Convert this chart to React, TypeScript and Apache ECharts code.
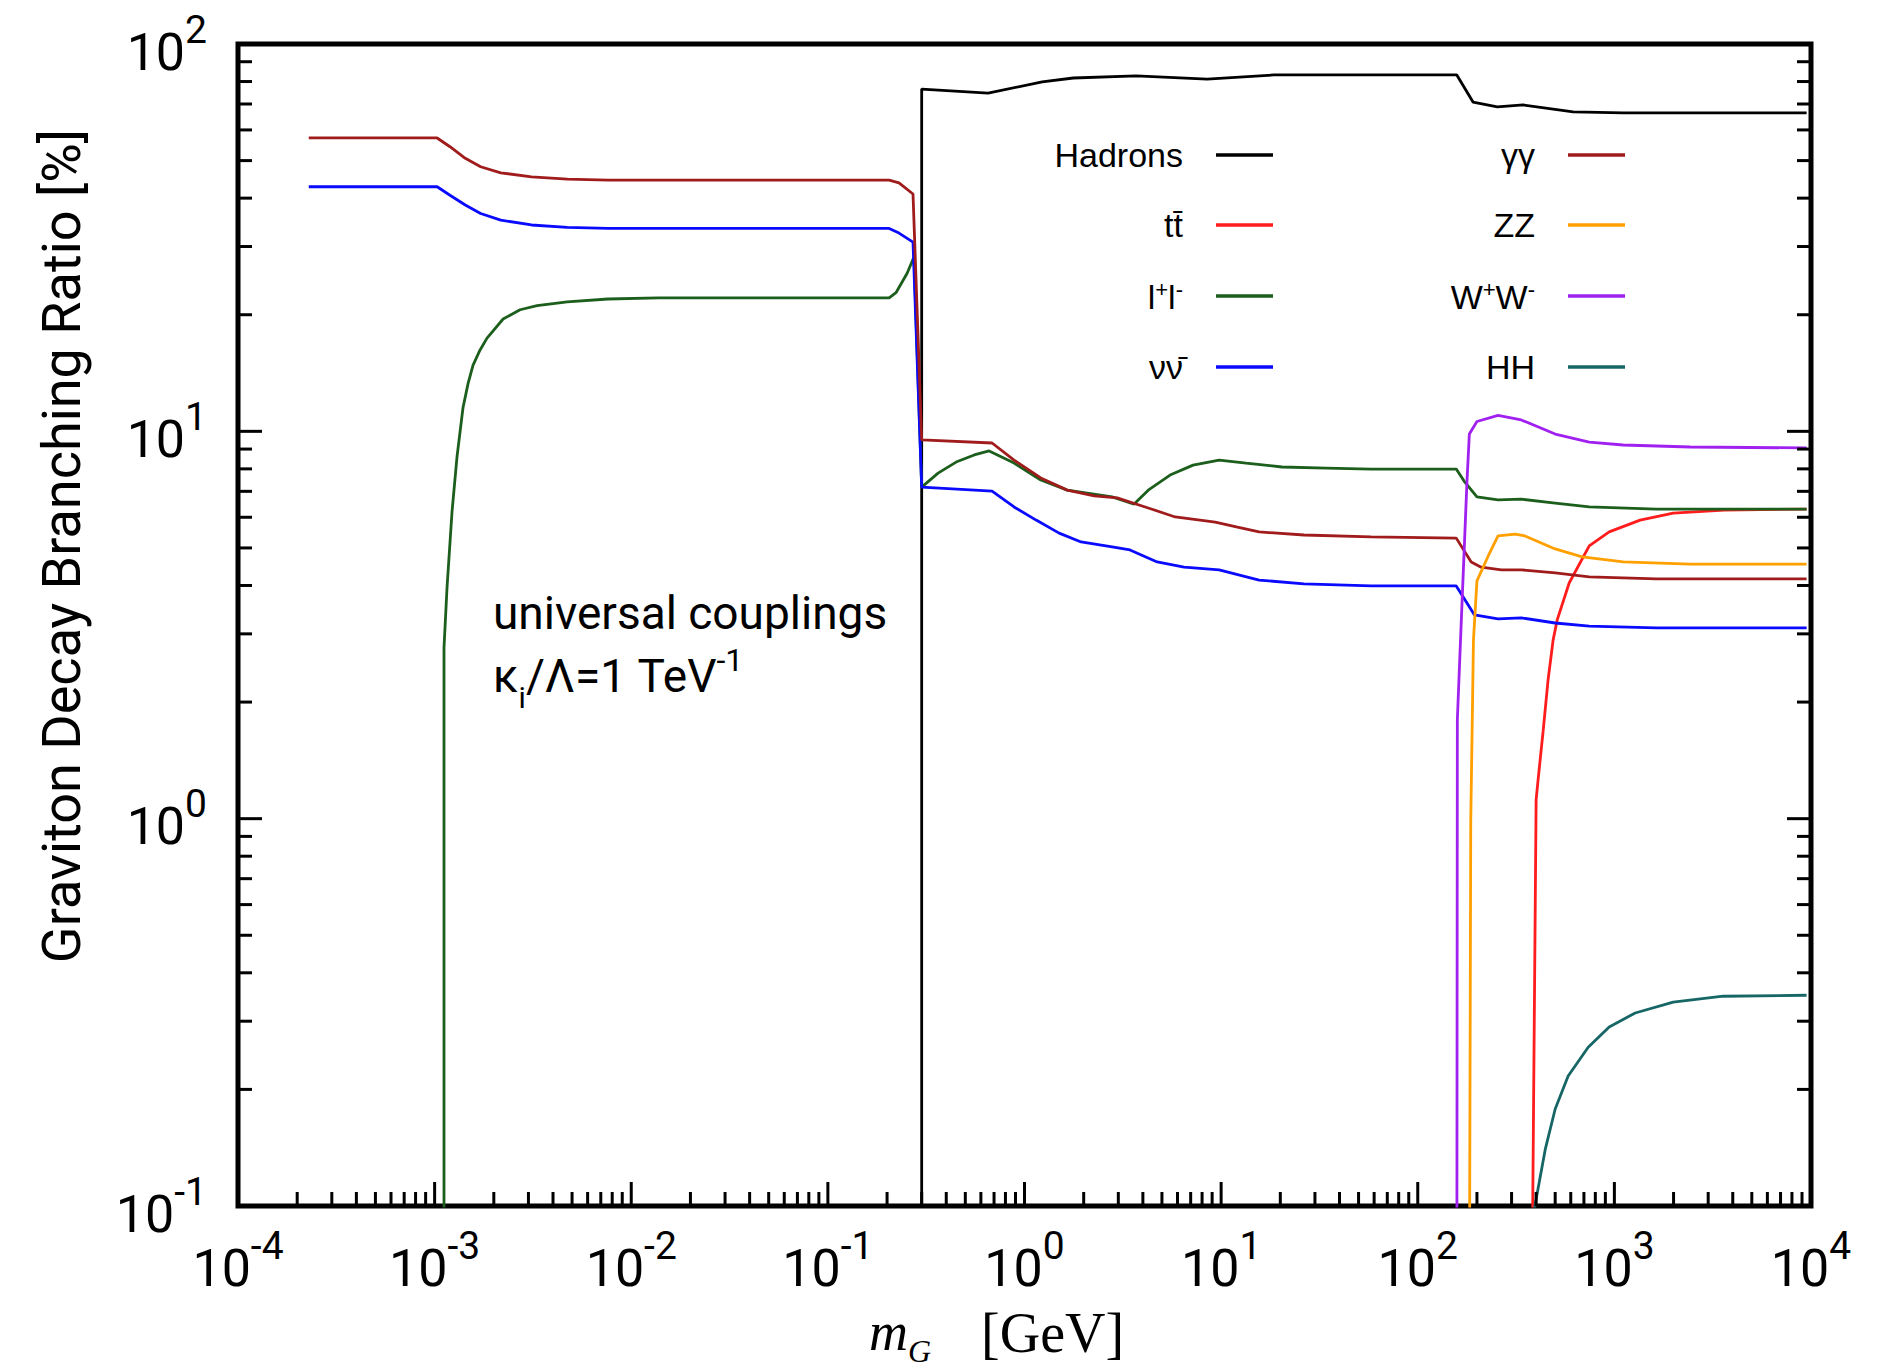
import React, { useEffect, useRef } from "react";
import * as echarts from "echarts";

// ---------- data (x: graviton mass in GeV, y: branching ratio in %) ----------
const X_TICKS = [1e-4, 1e-3, 1e-2, 1e-1, 1, 10, 100, 1000, 10000];
const Y_TICKS = [0.1, 1, 10, 100];
const MINOR_STEPS = [2, 3, 4, 5, 6, 7, 8, 9];

const hadrons: [number, number][] = [
  [0.3, 0.01], [0.3, 76.5], [0.653, 74.7], [1.23, 79.8], [1.77, 81.7], [3.7, 82.7],
  [8.49, 81.2], [18.6, 83.2], [40.8, 83.2], [158, 83.2], [191, 70.8], [254, 68.8],
  [344, 69.6], [617, 66.8], [1109, 66.4], [9500, 66.4],
];
const ttbar: [number, number][] = [
  [380, 0.05], [400, 1.12], [410, 1.27], [434, 1.68], [460, 2.28], [488, 2.89],
  [512, 3.26], [589, 4.06], [745, 5.06], [941, 5.5], [1352, 5.9], [1991, 6.15],
  [3619, 6.26], [9500, 6.3],
];
const leptons: [number, number][] = [
  [1.116e-3, 0.01], [1.116e-3, 2.76], [1.156e-3, 3.94], [1.226e-3, 6.2], [1.3e-3, 8.6],
  [1.394e-3, 11.5], [1.48e-3, 13.3], [1.567e-3, 14.8], [1.7e-3, 16.2], [1.847e-3, 17.4],
  [2.23e-3, 19.5], [2.72e-3, 20.6], [3.32e-3, 21.1], [4.72e-3, 21.6], [7.62e-3, 21.96],
  [1.38e-2, 22.1], [0.205, 22.1], [0.222, 22.8], [0.253, 25.6], [0.274, 28.2], [0.3, 7.18],
  [0.3635, 7.8], [0.449, 8.33], [0.555, 8.69], [0.661, 8.9], [0.885, 8.28], [1.21, 7.49],
  [1.65, 7.05], [2.79, 6.77], [3.61, 6.49], [4.26, 7.05], [5.5, 7.71], [7.2, 8.18],
  [9.77, 8.43], [13.4, 8.28], [20.4, 8.09], [34.2, 8.04], [57.9, 7.99], [157, 7.99],
  [172, 7.44], [200, 6.77], [256, 6.65], [336, 6.68], [500, 6.53], [745, 6.38],
  [1633, 6.3], [9500, 6.3],
];
const neutrinos: [number, number][] = [
  [2.29e-4, 42.8], [1.03e-3, 42.8], [1.197e-3, 40.7], [1.432e-3, 38.4], [1.714e-3, 36.5],
  [2.17e-3, 35.1], [3.11e-3, 34.1], [4.73e-3, 33.6], [7.62e-3, 33.4], [0.205, 33.4],
  [0.23, 32.5], [0.271, 30.8], [0.3, 7.18], [0.684, 7.01], [0.885, 6.38], [1.146, 5.9],
  [1.5, 5.46], [1.94, 5.18], [2.79, 5.03], [3.44, 4.94], [4.73, 4.6], [6.48, 4.46],
  [9.77, 4.39], [15.6, 4.13], [26.4, 4.04], [57.9, 3.99], [157, 3.99], [194, 3.36],
  [256, 3.28], [336, 3.3], [500, 3.2], [745, 3.14], [1633, 3.11], [9500, 3.11],
];
const photons: [number, number][] = [
  [2.29e-4, 57.2], [1.03e-3, 57.2], [1.197e-3, 54.3], [1.432e-3, 50.7], [1.714e-3, 48.2],
  [2.17e-3, 46.5], [3.11e-3, 45.4], [4.73e-3, 44.8], [7.62e-3, 44.5], [0.205, 44.5],
  [0.23, 43.8], [0.271, 41.0], [0.3, 9.5], [0.684, 9.33], [0.885, 8.43], [1.21, 7.58],
  [1.65, 7.05], [2.26, 6.81], [2.96, 6.73], [4.26, 6.34], [5.84, 6.01], [9.33, 5.83],
  [12.1, 5.66], [15.6, 5.5], [26.4, 5.4], [57.9, 5.34], [157, 5.3], [187, 4.6],
  [210, 4.46], [266, 4.39], [336, 4.39], [500, 4.31], [745, 4.21], [1633, 4.16], [9500, 4.16],
];
const zz: [number, number][] = [
  [183, 0.05], [186, 0.98], [192, 2.89], [200, 4.11], [228, 4.76], [256, 5.37],
  [313, 5.43], [351, 5.37], [500, 4.97], [686, 4.74], [1109, 4.6], [2432, 4.54], [9500, 4.54],
];
const ww: [number, number][] = [
  [158, 0.05], [159, 1.8], [165, 2.89], [178, 7.44], [183, 9.84], [200, 10.6],
  [256, 11.0], [336, 10.7], [500, 9.84], [745, 9.38], [1109, 9.22], [2432, 9.11], [9500, 9.06],
];
const hh: [number, number][] = [
  [387, 0.095], [445, 0.14], [500, 0.178], [582, 0.2165], [736, 0.257], [941, 0.29],
  [1276, 0.315], [1991, 0.336], [3573, 0.348], [9500, 0.35],
];

const SERIES = [
  { name: "Hadrons", label: "Hadrons", color: "#000000", data: hadrons },
  { name: "ttbar", label: "tt\u0304", color: "#ff1c1c", data: ttbar },
  { name: "l+l-", label: "{n|l}{p|+}{n|l}{p|-}", color: "#1c5e1c", data: leptons },
  { name: "nunubar", label: "\u03bd\u03bd\u0304", color: "#0a0aff", data: neutrinos },
  { name: "gammagamma", label: "\u03b3\u03b3", color: "#a01c1c", data: photons },
  { name: "ZZ", label: "ZZ", color: "#ffa000", data: zz },
  { name: "W+W-", label: "{n|W}{p|+}{n|W}{p|-}", color: "#a020f0", data: ww },
  { name: "HH", label: "HH", color: "#176666", data: hh },
];

// tick marks: [x, y, kind] kind 0/1 bottom major/minor, 2/3 left, 4/5 right
function buildTicks() {
  const out: number[][] = [];
  X_TICKS.forEach((x) => out.push([x, Y_TICKS[0], 0]));
  X_TICKS.slice(0, -1).forEach((d) => MINOR_STEPS.forEach((m) => out.push([d * m, Y_TICKS[0], 1])));
  const xmin = X_TICKS[0];
  const xmax = X_TICKS[X_TICKS.length - 1];
  Y_TICKS.forEach((y) => { out.push([xmin, y, 2]); out.push([xmax, y, 4]); });
  Y_TICKS.slice(0, -1).forEach((d) =>
    MINOR_STEPS.forEach((m) => { out.push([xmin, d * m, 3]); out.push([xmax, d * m, 5]); })
  );
  return out;
}

const W = 1898;
const H = 1369;
const G_LEFT = 238;
const G_TOP = 44;
const G_RIGHT = 1811;
const G_BOTTOM = 1206;

const tickRich = {
  b: { fontSize: 52, lineHeight: 68, fontFamily: "Roboto", color: "#000", padding: [16, 0, 0, 0], verticalAlign: "bottom" },
  s: { fontSize: 39, fontFamily: "Roboto", color: "#000", verticalAlign: "top" },
};
const expLabel = (v: number) => `{b|10}{s|${Math.round(Math.log10(v))}}`;

export default function App() {
  const ref = useRef<HTMLDivElement>(null);
  useEffect(() => {
    if (!ref.current) return;
    const chart = echarts.init(ref.current, undefined, { renderer: "svg" });

    const legendItems: any[] = [];
    const rowY = [155, 225, 296, 367];
    SERIES.forEach((s, i) => {
      const col = i < 4 ? 0 : 1;
      const row = i % 4;
      const textRight = col === 0 ? 1183 : 1535;
      const lineX1 = col === 0 ? 1216 : 1568;
      legendItems.push({
        type: "text",
        silent: true,
        style: {
          x: textRight,
          y: rowY[row],
          text: s.label,
          align: "right",
          verticalAlign: "middle",
          fill: "#000",
          font: '34px "Liberation Sans", Arial, sans-serif',
          rich: {
            n: { fontSize: 34, fontFamily: "Liberation Sans", fill: "#000", verticalAlign: "bottom", padding: [2, 0, 0, 0] },
            p: { fontSize: 22, fontFamily: "Liberation Sans", fill: "#000", verticalAlign: "top" },
          },
        },
      });
      legendItems.push({
        type: "line",
        silent: true,
        shape: { x1: lineX1, y1: rowY[row], x2: lineX1 + 57, y2: rowY[row] },
        style: { stroke: s.color, lineWidth: 3.5 },
      });
    });

    const option: any = {
      animation: false,
      backgroundColor: "#ffffff",
      grid: {
        left: G_LEFT,
        top: G_TOP,
        right: W - G_RIGHT,
        bottom: H - G_BOTTOM,
        show: true,
        borderColor: "#000",
        borderWidth: 5,
        containLabel: false,
      },
      xAxis: {
        type: "log",
        logBase: 10,
        min: X_TICKS[0],
        max: X_TICKS[X_TICKS.length - 1],
        interval: 1,
        splitNumber: 8,
        axisLine: { show: false },
        axisTick: { show: false },
        splitLine: { show: false },
        minorTick: { show: false },
        axisLabel: {
          show: true,
          margin: 20,
          showMinLabel: true,
          showMaxLabel: true,
          formatter: expLabel,
          rich: tickRich,
          color: "#000",
        },
      },
      yAxis: {
        type: "log",
        logBase: 10,
        min: Y_TICKS[0],
        max: Y_TICKS[Y_TICKS.length - 1],
        interval: 1,
        splitNumber: 3,
        axisLine: { show: false },
        axisTick: { show: false },
        splitLine: { show: false },
        minorTick: { show: false },
        axisLabel: {
          show: true,
          margin: 31,
          showMinLabel: true,
          showMaxLabel: true,
          formatter: expLabel,
          rich: tickRich,
          color: "#000",
        },
      },
      series: [
        ...SERIES.map((s) => ({
          type: "line",
          name: s.name,
          data: s.data,
          showSymbol: false,
          symbol: "none",
          clip: true,
          z: 3,
          lineStyle: { color: s.color, width: 2.8 },
          itemStyle: { color: s.color },
          emphasis: { disabled: true },
        })),
        {
          type: "custom",
          name: "ticks",
          silent: true,
          clip: false,
          z: 5,
          data: buildTicks(),
          renderItem: (_params: any, api: any) => {
            const kind = api.value(2);
            const p = api.coord([api.value(0), api.value(1)]);
            const len = kind % 2 === 0 ? 24 : 14;
            let shape;
            if (kind < 2) shape = { x1: p[0], y1: p[1], x2: p[0], y2: p[1] - len };
            else if (kind < 4) shape = { x1: p[0], y1: p[1], x2: p[0] + len, y2: p[1] };
            else shape = { x1: p[0], y1: p[1], x2: p[0] - len, y2: p[1] };
            return { type: "line", shape, style: { stroke: "#000", lineWidth: 3 } };
          },
        },
      ],
      graphic: [
        ...legendItems,
        {
          type: "text",
          silent: true,
          style: {
            x: 493,
            y: 602,
            text: "{a|universal couplings}\n{n|\u03ba}{sub|i}{n|/\u039b=1 TeV}{sup|-1}",
            align: "left",
            verticalAlign: "top",
            fill: "#000",
            font: "46px Roboto",
            rich: {
              a: { fontSize: 46, lineHeight: 22, fontFamily: "Roboto", fill: "#000", verticalAlign: "middle" },
              n: { fontSize: 46, fontFamily: "Roboto", fill: "#000", verticalAlign: "top", padding: [29, 0, 0, 0] },
              sub: { fontSize: 30, fontFamily: "Roboto", fill: "#000", verticalAlign: "top", padding: [58, 0, 0, 0] },
              sup: { fontSize: 32, fontFamily: "Roboto", fill: "#000", verticalAlign: "top", padding: [20, 0, 0, 0] },
            },
          },
        },
        {
          type: "text",
          silent: true,
          rotation: Math.PI / 2,
          x: 61,
          y: 546,
          style: {
            x: 0,
            y: 0,
            text: "Graviton Decay Branching Ratio [%]",
            align: "center",
            verticalAlign: "middle",
            fill: "#000",
            font: "54px Roboto",
          },
        },
        {
          type: "text",
          silent: true,
          style: {
            x: 869,
            y: 1305,
            text: "{m|m}{g|G}{r|[GeV]}",
            align: "left",
            verticalAlign: "top",
            fill: "#000",
            font: '54px "Liberation Serif"',
            rich: {
              m: { fontSize: 54, lineHeight: 56, fontFamily: "Liberation Serif", fontStyle: "italic", fill: "#000", verticalAlign: "top" },
              g: { fontSize: 32, lineHeight: 32, fontFamily: "Liberation Serif", fontStyle: "italic", fill: "#000", verticalAlign: "top", padding: [30, 0, 0, 0] },
              r: { fontSize: 56, lineHeight: 56, fontFamily: "Liberation Serif", fill: "#000", verticalAlign: "top", padding: [0, 0, 0, 50] },
            },
          },
        },
      ],
    };
    chart.setOption(option);
    return () => chart.dispose();
  }, []);
  return (
    <div
      ref={ref}
      style={{ position: "absolute", left: 0, top: 0, width: W, height: H, background: "#fff" }}
    />
  );
}
